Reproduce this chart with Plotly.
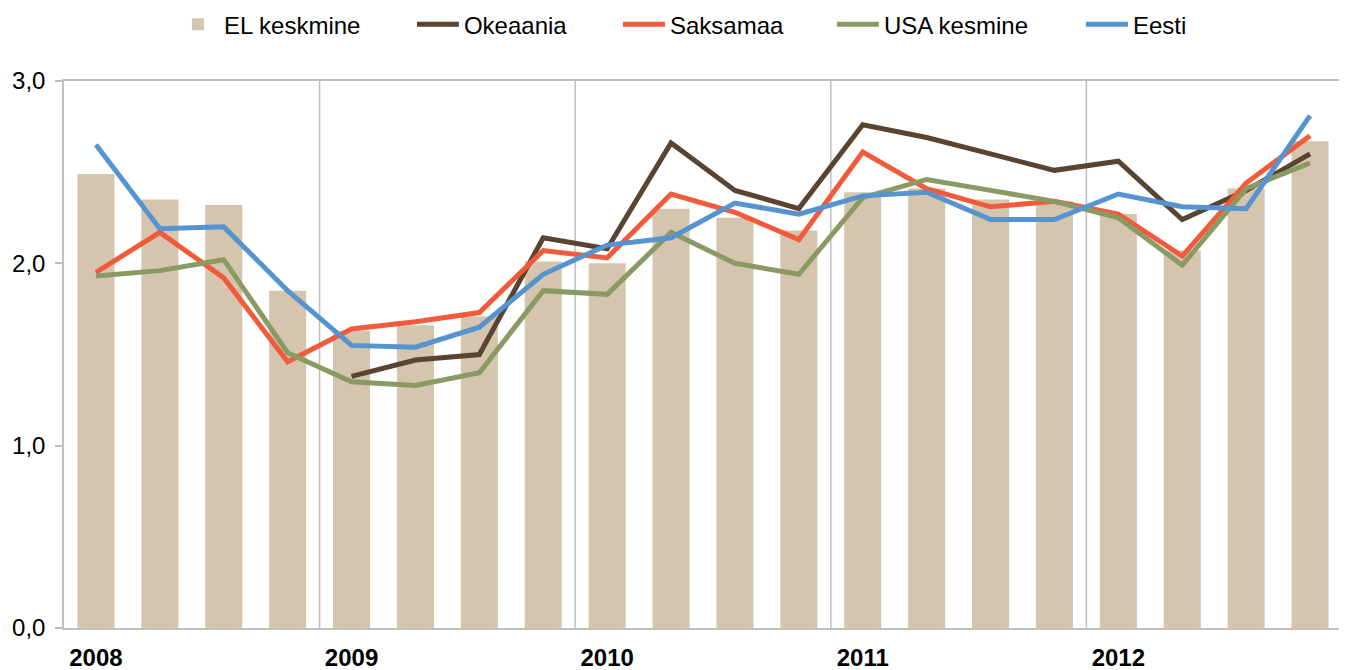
import plotly.graph_objects as go

quarters = [f"{y} Q{q}" for y in range(2008, 2013) for q in range(1, 5)]
years = [q.split()[0] for q in quarters]

el_keskmine = [2.49, 2.35, 2.32, 1.85, 1.63, 1.66, 1.71, 2.01, 2.00, 2.30,
               2.25, 2.18, 2.39, 2.41, 2.35, 2.34, 2.27, 2.07, 2.41, 2.67]
okeaania = [None, None, None, None, 1.38, 1.47, 1.50, 2.14, 2.08, 2.66,
            2.40, 2.30, 2.76, 2.69, 2.60, 2.51, 2.56, 2.24, 2.40, 2.60]
saksamaa = [1.95, 2.17, 1.92, 1.46, 1.64, 1.68, 1.73, 2.07, 2.03, 2.38,
            2.28, 2.13, 2.61, 2.41, 2.31, 2.34, 2.27, 2.04, 2.44, 2.70]
usa_kesmine = [1.93, 1.96, 2.02, 1.51, 1.35, 1.33, 1.40, 1.85, 1.83, 2.17,
               2.00, 1.94, 2.36, 2.46, 2.40, 2.34, 2.25, 1.99, 2.41, 2.55]
eesti = [2.65, 2.19, 2.20, 1.85, 1.55, 1.54, 1.65, 1.94, 2.10, 2.14,
         2.33, 2.27, 2.37, 2.39, 2.24, 2.24, 2.38, 2.31, 2.30, 2.81]

y_ticks = [0, 1, 2, 3]

FONT = "Liberation Sans, Arial, sans-serif"
GRID = "#bfbfbf"
FS = 24

fig = go.Figure()
fig.add_trace(go.Bar(x=quarters, y=el_keskmine, name="EL keskmine",
                     marker=dict(color="#d5c5af", line=dict(width=0)),
                     width=0.58, legendwidth=183))
line_series = [
    ("Okeaania", okeaania, "#594331", 149),
    ("Saksamaa", saksamaa, "#f15a3a", 157),
    ("USA kesmine", usa_kesmine, "#8a9a63", 192),
    ("Eesti", eesti, "#5594cf", 70),
]
for name, vals, color, lw in line_series:
    fig.add_trace(go.Scatter(x=quarters, y=vals, name=name, mode="lines",
                             line=dict(color=color, width=5), legendwidth=lw))

# year tick labels at the first quarter of every year
first_q = [q for i, q in enumerate(quarters) if i == 0 or years[i] != years[i - 1]]
year_labels = ["<b>" + q.split()[0] + "</b>" for q in first_q]

# vertical separators at year boundaries (computed from categories)
for i in range(1, len(quarters)):
    if years[i] != years[i - 1]:
        fig.add_shape(type="line", xref="x", yref="paper",
                      x0=i - 0.5, x1=i - 0.5, y0=0, y1=1,
                      line=dict(color=GRID, width=1.5), layer="below")

fig.update_layout(
    width=1347, height=670,
    margin=dict(l=56, r=13, t=73, b=50, autoexpand=False),
    paper_bgcolor="white", plot_bgcolor="white",
    font=dict(family=FONT, size=FS, color="#000000"),
    separators=", ",
    showlegend=True,
    legend=dict(orientation="h", xref="container", yref="container",
                x=0.1217, xanchor="left", y=0.975, yanchor="middle",
                font=dict(size=FS), itemwidth=42, traceorder="normal",
                bgcolor="rgba(0,0,0,0)"),
    xaxis=dict(type="category", categoryorder="array", categoryarray=quarters,
               tickmode="array", tickvals=first_q, ticktext=year_labels,
               showgrid=False, ticks="", showline=True, linecolor=GRID, linewidth=1.5,
               mirror=True, range=[-0.5, len(quarters) - 0.5], ticklabelstandoff=7,
               tickfont=dict(size=FS, family=FONT), zeroline=False, automargin=False),
    yaxis=dict(range=[0, 3], tickmode="array", tickvals=y_ticks, tickformat=".1f",
               showgrid=False, ticks="outside", ticklen=7, tickcolor=GRID, tickwidth=1.5,
               showline=True, linecolor=GRID, linewidth=1.5, mirror=True,
               ticklabelstandoff=5, automargin=False,
               zeroline=False, tickfont=dict(size=FS, family=FONT)),
)

fig.write_html("out.html")
